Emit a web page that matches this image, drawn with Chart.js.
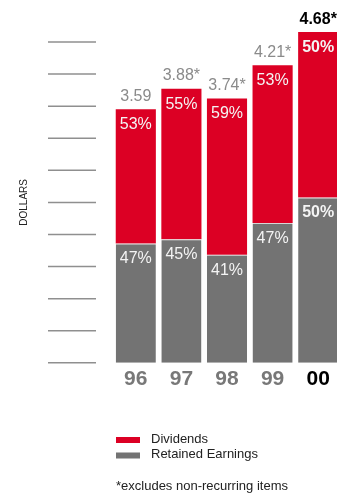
<!DOCTYPE html>
<html>
<head>
<meta charset="utf-8">
<script src="https://cdn.jsdelivr.net/npm/chart.js@4"></script>
<style>
  html, body { margin: 0; padding: 0; background: #fff; overflow: hidden; }
  #wrap { width: 337px; height: 494px; overflow: hidden; }
</style>
</head>
<body>
<div id="wrap"><canvas id="chart" width="341" height="494"></canvas></div>
<script>
const years = ['96', '97', '98', '99', '00']
const totalLabels = ['3.59', '3.88*', '3.74*', '4.21*', '4.68*']
const retained = [1.69, 1.75, 1.53, 1.98, 2.34]
const dividends = [1.90, 2.13, 2.21, 2.23, 2.34]
const retainedPct = ['47%', '45%', '41%', '47%', '50%']
const dividendPct = ['53%', '55%', '59%', '53%', '50%']
const footnote = '*excludes non-recurring items'

const RED = '#dc0024'
const GRAY = '#737373'
const FONT = '"Liberation Sans", Arial, Helvetica, sans-serif'
const last = years.length - 1

// short lines on the left, one per y tick
const shortGrid = {
  id: 'shortGrid',
  beforeDatasetsDraw(chart) {
    const ctx = chart.ctx
    const y = chart.scales.y
    ctx.save()
    ctx.strokeStyle = '#8f8f8f'
    ctx.lineWidth = 1.5
    y.ticks.forEach(t => {
      const py = y.getPixelForValue(t.value)
      ctx.beginPath()
      ctx.moveTo(48, py)
      ctx.lineTo(96, py)
      ctx.stroke()
    })
    ctx.restore()
  }
}

// percentages inside the bars and totals above them
const barLabels = {
  id: 'barLabels',
  afterDatasetsDraw(chart) {
    const ctx = chart.ctx
    const pcts = [retainedPct, dividendPct]
    ctx.save()
    ctx.textAlign = 'center'
    ctx.textBaseline = 'middle'
    chart.data.datasets.forEach((ds, di) => {
      chart.getDatasetMeta(di).data.forEach((bar, i) => {
        ctx.font = (i === last ? 'bold ' : '') + '16px ' + FONT
        ctx.fillStyle = '#f4f4f4'
        ctx.fillText(pcts[di][i], bar.x, bar.y + 15.5)
      })
    })
    const top = chart.getDatasetMeta(1).data
    top.forEach((bar, i) => {
      ctx.font = (i === last ? 'bold ' : '') + '16px ' + FONT
      ctx.fillStyle = i === last ? '#000' : '#8a8a8a'
      ctx.fillText(totalLabels[i], bar.x, bar.y - 13)
    })
    ctx.restore()
  }
}

// legend stacked vertically + footnote
const sideLegend = {
  id: 'sideLegend',
  afterDraw(chart) {
    const ctx = chart.ctx
    const items = chart.data.datasets.slice().reverse()
    ctx.save()
    ctx.font = '13px ' + FONT
    ctx.textBaseline = 'middle'
    ctx.textAlign = 'left'
    items.forEach((ds, k) => {
      const cy = 440 + k * 15.5
      ctx.fillStyle = ds.backgroundColor
      ctx.fillRect(116, cy - 3, 24, 6)
      ctx.fillStyle = '#222'
      ctx.fillText(ds.label, 151, cy - 1)
    })
    ctx.fillText(footnote, 116, 486)
    ctx.restore()
  }
}

new Chart(document.getElementById('chart'), {
  type: 'bar',
  data: {
    labels: years,
    datasets: [
      {
        label: 'Retained Earnings',
        data: retained,
        backgroundColor: GRAY,
        borderColor: '#d6d6d6',
        borderWidth: {top: 1, left: 0, right: 0, bottom: 0},
        borderSkipped: false,
        clip: false
      },
      {
        label: 'Dividends',
        data: dividends,
        backgroundColor: RED,
        borderWidth: 0,
        clip: false
      }
    ]
  },
  options: {
    responsive: false,
    animation: false,
    layout: {padding: {left: 0, right: 0, top: 42, bottom: 98}},
    datasets: {bar: {barPercentage: 0.88, categoryPercentage: 1}},
    plugins: {legend: {display: false}, tooltip: {enabled: false}},
    scales: {
      x: {
        stacked: true,
        grid: {display: false, drawTicks: false},
        border: {display: false},
        ticks: {
          padding: 4,
          font: {family: FONT, size: 21, weight: 'bold'},
          color: c => c.index === last ? '#000' : '#787878'
        }
      },
      y: {
        stacked: true,
        min: 0,
        max: 4.54,
        grid: {display: false, drawTicks: false},
        border: {display: false},
        ticks: {display: false, stepSize: 0.454},
        title: {
          display: true,
          text: 'DOLLARS',
          color: '#222',
          font: {family: FONT, size: 10},
          padding: {top: 18, bottom: 83}
        }
      }
    }
  },
  plugins: [shortGrid, barLabels, sideLegend]
})
</script>
</body>
</html>
